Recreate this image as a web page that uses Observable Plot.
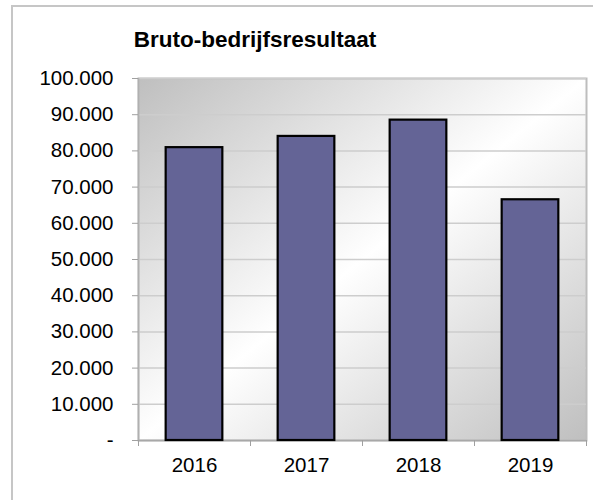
<!DOCTYPE html>
<html>
<head>
<meta charset="utf-8">
<script src="https://cdn.jsdelivr.net/npm/d3@7"></script>
<script src="https://cdn.jsdelivr.net/npm/@observablehq/plot@0.6"></script>
<style>
  body { margin: 0; background: #fff; font-family: Arial, "Liberation Sans", sans-serif; }
  #wrap { position: relative; width: 593px; height: 500px; overflow: hidden; }
  #frame { position: absolute; left: 11px; top: 5px; width: 640px; height: 640px; border: 2px solid #c6c6c6; box-sizing: border-box; }
  #title { position: absolute; left: 0; top: 29px; width: 510px; text-align: center; font-weight: bold; font-size: 22.5px; line-height: 22.5px; color: #000; }
  #chart { position: absolute; left: 0; top: 60px; }
</style>
</head>
<body>
<div id="wrap">
  <div id="frame"></div>
  <div id="title">Bruto-bedrijfsresultaat</div>
  <div id="chart"></div>
</div>
<script>
const years = [2016, 2017, 2018, 2019];
const values = [80900, 84000, 88500, 66500];
const yTicks = [0, 10000, 20000, 30000, 40000, 50000, 60000, 70000, 80000, 90000, 100000];
const xBoundaries = [2015.5, 2016.5, 2017.5, 2018.5, 2019.5];

const data = years.map((year, i) => ({year, value: values[i]}));
const nl = d3.formatLocale({decimal: ",", thousands: ".", grouping: [3], currency: ["€", ""]});
const fmt = nl.format(",d");
const yFormat = d => d === 0 ? "-" : fmt(d);
const halfBar = 0.253;

const svg = Plot.plot({
  width: 593,
  height: 440,
  marginTop: 18,
  marginBottom: 60,
  marginLeft: 138,
  marginRight: 7,
  style: {background: "transparent", fontFamily: "Arial, 'Liberation Sans', sans-serif", color: "#000"},
  x: {type: "linear", domain: [2015.5, 2019.5]},
  y: {domain: [0, 100000]},
  marks: [
    Plot.frame({fill: "url(#bg)", stroke: "#bdbdbd", strokeWidth: 2}),
    Plot.gridY(yTicks, {stroke: "#cdcdcd", strokeOpacity: 1, strokeWidth: 1.5}),
    Plot.ruleY([0], {stroke: "#a8a8a8", strokeWidth: 1.5}),
    Plot.ruleX([2015.5], {stroke: "#b0b0b0", strokeWidth: 1.5}),
    Plot.rectY(data, {x1: d => d.year - halfBar, x2: d => d.year + halfBar, y: "value", fill: "#646496", stroke: "#000", strokeWidth: 2.2}),
    Plot.axisY({ticks: yTicks, tickFormat: yFormat, tickSize: 6, tickPadding: 19, fontSize: 20.5, stroke: "#a0a0a0", fill: "#000", label: null}),
    Plot.axisX({ticks: xBoundaries, tickFormat: () => "", tickSize: 6, stroke: "#a0a0a0", label: null}),
    Plot.axisX({ticks: years, tickFormat: d => String(d), tickSize: 0, tickPadding: 17, fontSize: 20.5, fill: "#000", label: null})
  ]
});

const defs = d3.select(svg).insert("defs", ":first-child");
const grad = defs.append("linearGradient").attr("id", "bg")
  .attr("x1", 0).attr("y1", 0).attr("x2", 1).attr("y2", 1);
grad.append("stop").attr("offset", "0").attr("stop-color", "#bfbfbf");
grad.append("stop").attr("offset", "0.5").attr("stop-color", "#ffffff");
grad.append("stop").attr("offset", "1").attr("stop-color", "#bfbfbf");

document.getElementById("chart").appendChild(svg);
</script>
</body>
</html>
